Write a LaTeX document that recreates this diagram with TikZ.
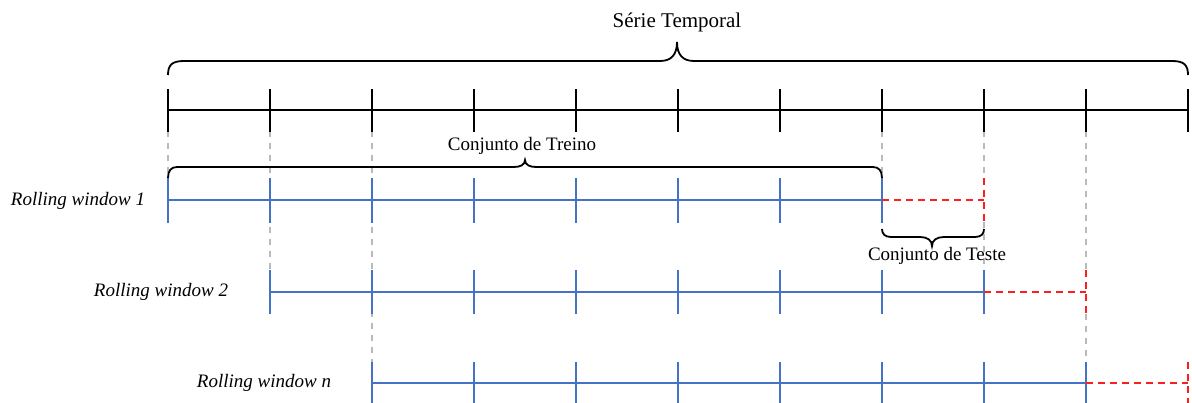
\documentclass[tikz,border=0pt]{standalone}
\usepackage{fontspec}
\setmainfont{Liberation Serif}
\definecolor{winblue}{RGB}{68,114,196}
\definecolor{testred}{RGB}{255,30,30}
\definecolor{guide}{RGB}{185,185,185}
\begin{document}
\begin{tikzpicture}[x=1pt,y=-1pt,
  axisline/.style={line width=2.5pt,black},
  winline/.style={line width=2.8pt,winblue},
  testline/.style={line width=2.2pt,testred,dash pattern=on 7pt off 5pt},
  guideline/.style={line width=1.8pt,guide,dash pattern=on 6pt off 6pt},
  bracepath/.style={line width=1.8pt,black},
  label/.style={font=\fontsize{19}{22}\selectfont,inner sep=0pt},
  rowlabel/.style={font=\fontsize{19}{22}\selectfont\itshape,inner sep=0pt}]
\useasboundingbox (0,0) rectangle (1192,403);
\clip (0,0) rectangle (1192,403);

% tick positions
\foreach \i in {0,...,10}{
  \coordinate (t\i) at ({168+102*\i},110);
}

% guide lines (gray dashed)
\draw[guideline] (168,131) -- (168,178);
\draw[guideline] (270,131) -- (270,270);
\draw[guideline] (372,131) -- (372,362);
\draw[guideline] (882,131) -- (882,178);
\draw[guideline] (984,131) -- (984,178);
\draw[guideline] (984,222) -- (984,270);
\draw[guideline] (1086,131) -- (1086,270);
\draw[guideline] (1086,314) -- (1086,362);

% top axis
\draw[axisline] (t0) -- (t10);
\foreach \i in {0,...,10}{
  \draw[axisline] ([yshift=-22pt]t\i) -- ([yshift=21pt]t\i);
}

% row 1
\coordinate (a0) at (168,200);
\coordinate (a1) at (882,200);
\coordinate (a2) at (984,200);
\draw[winline] (a0) -- (a1);
\foreach \i in {0,...,7}{
  \draw[winline] ({168+102*\i},178) -- ({168+102*\i},223);
}
\draw[testline] (a1) -- (a2);
\draw[testline] (984,178) -- (984,222);

% row 2
\coordinate (b0) at (270,292);
\coordinate (b1) at (984,292);
\coordinate (b2) at (1086,292);
\draw[winline] (b0) -- (b1);
\foreach \i in {0,...,7}{
  \draw[winline] ({270+102*\i},270) -- ({270+102*\i},314);
}
\draw[testline] (b1) -- (b2);
\draw[testline] (1086,270) -- (1086,314);

% row n
\coordinate (c0) at (372,383);
\coordinate (c1) at (1086,383);
\coordinate (c2) at (1188,383);
\draw[winline] (c0) -- (c1);
\foreach \i in {0,...,7}{
  \draw[winline] ({372+102*\i},362) -- ({372+102*\i},406);
}
\draw[testline] (c1) -- (c2);
\draw[testline] (1188,362) -- (1188,406);

% braces
\draw[bracepath] (168,75) .. controls (168,65) and (172,61) .. (184,61)
  -- (660,61) .. controls (671,61) and (677,55) .. (677,42)
  .. controls (677,55) and (683,61) .. (694,61)
  -- (1172,61) .. controls (1184,61) and (1188,65) .. (1188,75);
\draw[bracepath] (168,178) .. controls (168,171) and (171,167) .. (177,167)
  -- (514,167) .. controls (520,167) and (525,165) .. (525,160)
  .. controls (525,165) and (530,167) .. (536,167)
  -- (873,167) .. controls (879,167) and (882,171) .. (882,178);
\draw[bracepath] (882,229) .. controls (882,234) and (885,237) .. (891,237)
  -- (920,237) .. controls (927,237) and (932,240) .. (932,246)
  .. controls (932,240) and (937,237) .. (944,237)
  -- (975,237) .. controls (981,237) and (984,234) .. (984,229);

% texts
\node[label,font=\fontsize{21}{24}\selectfont] (serie) at (677,22) {Série Temporal};
\node[label] (treino) at (522,146) {Conjunto de Treino};
\node[label] (teste) at (937,256) {Conjunto de Teste};
\node[rowlabel] (rw1) at (78,201) {Rolling window 1};
\node[rowlabel] (rw2) at (161,292) {Rolling window 2};
\node[rowlabel] (rwn) at (264,383) {Rolling window \textit{n}};
\end{tikzpicture}
\end{document}
